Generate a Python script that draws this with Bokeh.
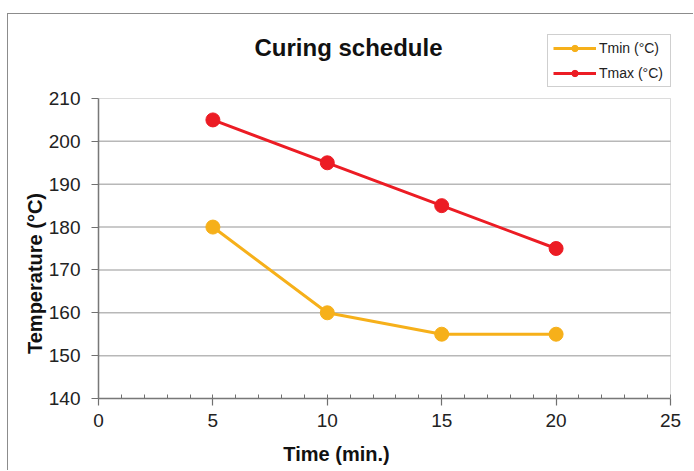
import math
from bokeh.plotting import figure
from bokeh.models import (Range1d, SingleIntervalTicker, Legend, LegendItem, Label,
                          LinearAxis, BoxAnnotation)
from bokeh.embed import file_html
from bokeh.resources import INLINE

# ---- data ----
time_min = [5, 10, 15, 20]
tmin = [180, 160, 155, 155]
tmax = [205, 195, 185, 175]
series_names = ["Tmin (°C)", "Tmax (°C)"]
title_text = "Curing schedule"
x_label = "Time (min.)"
y_label = "Temperature (°C)"

X0, X1, XSTEP = 0, 25, 5
Y0, Y1, YSTEP = 140, 210, 10

FONT = "Liberation Sans"
ORANGE = "#F6B01A"
RED = "#EC1C24"
GRID = "#b8b8b8"
AXIS = "#707070"

# ---- layout in page pixels ----
OX, OY = 7, 13            # figure origin on the page
W, H = 686, 457           # figure size
PL, PR, PT, PB = 97, 669, 97, 397   # plot-area edges on the page
xs = (X1 - X0) / (PR - PL)
ys = (Y1 - Y0) / (PB - PT)

def dx(px):   # page x -> data x
    return X0 + (px - PL) * xs

def dy(py):   # page y -> data y
    return Y1 - (py - PT) * ys

x_start, x_end = dx(OX), dx(OX + W)
y_end, y_start = dy(OY), dy(OY + H)

p = figure(width=W, height=H, output_backend="svg", toolbar_location=None,
           x_range=Range1d(x_start, x_end), y_range=Range1d(y_start, y_end),
           x_axis_location=None, y_axis_location=None,
           min_border=0, min_border_left=0, min_border_right=0,
           min_border_top=0, min_border_bottom=0)
p.margin = (OY, 0, 0, OX)
p.styles = {"border-top": "1px solid #8c8c8c", "border-left": "1px solid #8c8c8c"}
p.outline_line_color = None
p.background_fill_color = "white"
p.border_fill_color = "white"
p.grid.visible = False

# horizontal grid lines inside the plot area
gy = list(range(Y0 + YSTEP, Y1, YSTEP))
p.segment(x0=[X0] * len(gy), x1=[X1] * len(gy), y0=gy, y1=gy,
          line_color=GRID, line_width=1.5)

# plot-area border
p.add_layout(BoxAnnotation(left=X0, right=X1, bottom=Y0, top=Y1,
                           fill_alpha=0, line_color="#8a8a8a", line_width=1))

# axes fixed at the plot-area edges
xaxis = LinearAxis(fixed_location=Y0, bounds=(X0, X1),
                   ticker=SingleIntervalTicker(interval=XSTEP, num_minor_ticks=5))
yaxis = LinearAxis(fixed_location=X0, bounds=(Y0, Y1),
                   ticker=SingleIntervalTicker(interval=YSTEP, num_minor_ticks=0))
for ax in (xaxis, yaxis):
    ax.axis_line_color = AXIS
    ax.axis_line_width = 1.5
    ax.major_tick_line_color = AXIS
    ax.major_tick_line_width = 1.2
    ax.minor_tick_line_color = AXIS
    ax.major_label_text_font = FONT
    ax.major_label_text_font_size = "19px"
    ax.major_label_text_color = "#222222"
    ax.major_tick_in = 0
    ax.major_tick_out = 7
xaxis.minor_tick_in = 4
xaxis.minor_tick_out = 0
xaxis.major_label_standoff = 8
yaxis.minor_tick_in = 0
yaxis.minor_tick_out = 0
yaxis.major_label_standoff = 11
p.add_layout(xaxis, "below")
p.add_layout(yaxis, "left")

# series
l1 = p.line(time_min, tmin, line_color=ORANGE, line_width=3)
c1 = p.scatter(time_min, tmin, size=14, fill_color=ORANGE, line_color=ORANGE)
l2 = p.line(time_min, tmax, line_color=RED, line_width=3)
c2 = p.scatter(time_min, tmax, size=14, fill_color=RED, line_color=RED)

# legend (location = bottom-left, screen px from the figure's bottom-left)
legend = Legend(items=[LegendItem(label=series_names[0], renderers=[l1, c1]),
                       LegendItem(label=series_names[1], renderers=[l2, c2])],
                location=(546 - OX, OY + H - 86))
legend.border_line_color = "#a0a0a0"
legend.border_line_width = 1
legend.label_text_font = FONT
legend.label_text_font_size = "14px"
legend.label_text_color = "#222222"
legend.glyph_width = 43
legend.glyph_height = 16
legend.label_height = 16
legend.label_width = 66
legend.spacing = 9
legend.padding = 5
legend.margin = 0
legend.label_standoff = 3
legend.background_fill_alpha = 1
p.add_layout(legend, "center")

# title and axis titles (centred on their boxes)
p.add_layout(Label(x=dx(347), y=dy(46), text=title_text,
                   text_font=FONT, text_font_size="24px", text_font_style="bold",
                   text_align="center", text_baseline="middle", text_color="#111111"))
p.add_layout(Label(x=dx(335), y=dy(452), text=x_label,
                   text_font=FONT, text_font_size="20px", text_font_style="bold",
                   text_align="center", text_baseline="middle", text_color="#111111"))
p.add_layout(Label(x=dx(33), y=dy(272), text=y_label, angle=math.pi / 2,
                   text_font=FONT, text_font_size="20px", text_font_style="bold",
                   text_align="center", text_baseline="middle", text_color="#111111"))

open("out.html", "w").write(file_html(p, INLINE))
